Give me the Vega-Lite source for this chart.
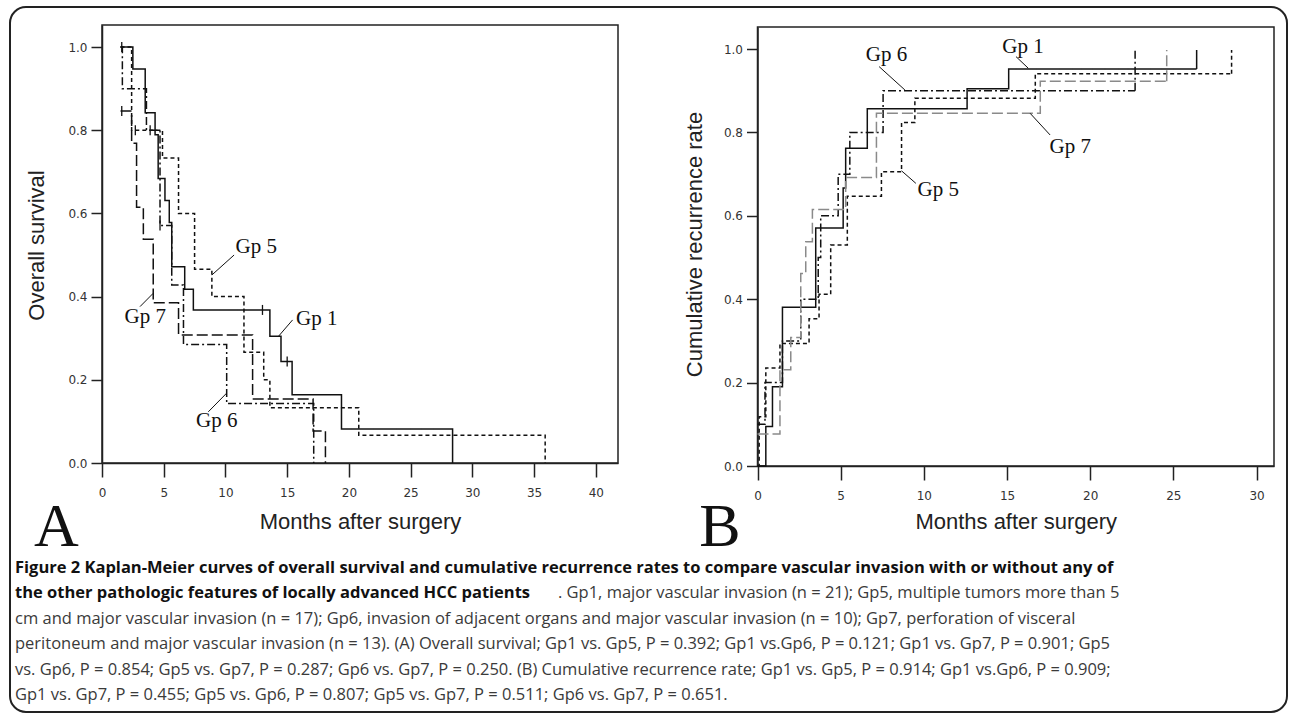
{
  "$schema": "https://vega.github.io/schema/vega-lite/v6.json",
  "width": 1277,
  "height": 705,
  "padding": {"left": 10, "top": 7, "right": 3, "bottom": 7},
  "autosize": {"type": "none"},
  "background": "white",
  "config": {
    "view": {"stroke": "#222", "strokeWidth": 2, "cornerRadius": 16},
    "axis": {"grid": false, "domainColor": "#222", "domainWidth": 1.5, "tickColor": "#222", "tickWidth": 1.5, "labelFont": "DejaVu Sans", "labelFontSize": 12, "labelColor": "#333", "labelPadding": 4, "titleFont": "Liberation Sans", "titleFontSize": 22, "titleFontWeight": "normal", "titleColor": "#222", "labelOverlap": false, "labelFlush": false}
  },
  "datasets": {
    "survA": [
      {"group": "Gp 1", "t": 1.5, "s": 1.0}, {"group": "Gp 1", "t": 2.5, "s": 0.947}, {"group": "Gp 1", "t": 3.5, "s": 0.842}, {"group": "Gp 1", "t": 4.3, "s": 0.789}, {"group": "Gp 1", "t": 4.55, "s": 0.684}, {"group": "Gp 1", "t": 5.1, "s": 0.631}, {"group": "Gp 1", "t": 5.45, "s": 0.578}, {"group": "Gp 1", "t": 5.65, "s": 0.472}, {"group": "Gp 1", "t": 6.7, "s": 0.418}, {"group": "Gp 1", "t": 7.4, "s": 0.368}, {"group": "Gp 1", "t": 13.6, "s": 0.305}, {"group": "Gp 1", "t": 14.5, "s": 0.244}, {"group": "Gp 1", "t": 15.4, "s": 0.164}, {"group": "Gp 1", "t": 19.4, "s": 0.082}, {"group": "Gp 1", "t": 28.4, "s": 0.0},
      {"group": "Gp 5", "t": 1.5, "s": 1.0}, {"group": "Gp 5", "t": 2.4, "s": 0.8}, {"group": "Gp 5", "t": 4.9, "s": 0.733}, {"group": "Gp 5", "t": 6.2, "s": 0.6}, {"group": "Gp 5", "t": 7.5, "s": 0.466}, {"group": "Gp 5", "t": 8.9, "s": 0.4}, {"group": "Gp 5", "t": 11.5, "s": 0.266}, {"group": "Gp 5", "t": 13.1, "s": 0.2}, {"group": "Gp 5", "t": 13.6, "s": 0.133}, {"group": "Gp 5", "t": 20.8, "s": 0.067}, {"group": "Gp 5", "t": 35.9, "s": 0.0},
      {"group": "Gp 6", "t": 1.5, "s": 1.0}, {"group": "Gp 6", "t": 1.65, "s": 0.9}, {"group": "Gp 6", "t": 3.6, "s": 0.8}, {"group": "Gp 6", "t": 4.7, "s": 0.571}, {"group": "Gp 6", "t": 5.65, "s": 0.428}, {"group": "Gp 6", "t": 6.6, "s": 0.285}, {"group": "Gp 6", "t": 10.1, "s": 0.143}, {"group": "Gp 6", "t": 17.15, "s": 0.0},
      {"group": "Gp 7", "t": 1.5, "s": 0.846}, {"group": "Gp 7", "t": 2.4, "s": 0.769}, {"group": "Gp 7", "t": 2.8, "s": 0.615}, {"group": "Gp 7", "t": 3.35, "s": 0.538}, {"group": "Gp 7", "t": 4.15, "s": 0.385}, {"group": "Gp 7", "t": 6.2, "s": 0.308}, {"group": "Gp 7", "t": 12.2, "s": 0.154}, {"group": "Gp 7", "t": 17.1, "s": 0.077}, {"group": "Gp 7", "t": 18.1, "s": 0.0}
    ],
    "censorA": [
      {"group": "Gp 1", "t": 1.6, "s": 1.0}, {"group": "Gp 1", "t": 13.0, "s": 0.368}, {"group": "Gp 1", "t": 15.0, "s": 0.244},
      {"group": "Gp 7", "t": 1.6, "s": 0.846},
      {"group": "Gp 5", "t": 2.7, "s": 0.8}, {"group": "Gp 5", "t": 3.9, "s": 0.8},
      {"group": "Gp 6", "t": 4.7, "s": 0.571}
    ],
    "labelsA": [
      {"label": "Gp 5", "t": 12.5, "s": 0.52, "t1": 10.7, "s1": 0.5, "t2": 8.9, "s2": 0.452},
      {"label": "Gp 7", "t": 3.5, "s": 0.35, "t1": 3.08, "s1": 0.376, "t2": 4.15, "s2": 0.408},
      {"label": "Gp 1", "t": 17.4, "s": 0.346, "t1": 15.44, "s1": 0.344, "t2": 14.28, "s2": 0.304},
      {"label": "Gp 6", "t": 9.3, "s": 0.1, "t1": 8.61, "s1": 0.123, "t2": 10.1, "s2": 0.168}
    ],
    "recB": [
      {"group": "Gp 1", "t": 0.0, "r": 0.0}, {"group": "Gp 1", "t": 0.5, "r": 0.095}, {"group": "Gp 1", "t": 0.9, "r": 0.19}, {"group": "Gp 1", "t": 1.5, "r": 0.381}, {"group": "Gp 1", "t": 3.5, "r": 0.571}, {"group": "Gp 1", "t": 5.15, "r": 0.667}, {"group": "Gp 1", "t": 5.3, "r": 0.762}, {"group": "Gp 1", "t": 6.6, "r": 0.857}, {"group": "Gp 1", "t": 12.6, "r": 0.905}, {"group": "Gp 1", "t": 15.1, "r": 0.952}, {"group": "Gp 1", "t": 26.4, "r": 0.952},
      {"group": "Gp 5", "t": 0.0, "r": 0.0}, {"group": "Gp 5", "t": 0.1, "r": 0.118}, {"group": "Gp 5", "t": 0.5, "r": 0.235}, {"group": "Gp 5", "t": 1.35, "r": 0.294}, {"group": "Gp 5", "t": 3.1, "r": 0.353}, {"group": "Gp 5", "t": 3.7, "r": 0.412}, {"group": "Gp 5", "t": 4.4, "r": 0.53}, {"group": "Gp 5", "t": 5.4, "r": 0.647}, {"group": "Gp 5", "t": 7.45, "r": 0.706}, {"group": "Gp 5", "t": 8.66, "r": 0.824}, {"group": "Gp 5", "t": 9.46, "r": 0.882}, {"group": "Gp 5", "t": 16.7, "r": 0.941}, {"group": "Gp 5", "t": 28.5, "r": 0.941},
      {"group": "Gp 6", "t": 0.0, "r": 0.1}, {"group": "Gp 6", "t": 0.45, "r": 0.2}, {"group": "Gp 6", "t": 1.5, "r": 0.3}, {"group": "Gp 6", "t": 2.6, "r": 0.4}, {"group": "Gp 6", "t": 3.65, "r": 0.5}, {"group": "Gp 6", "t": 3.8, "r": 0.6}, {"group": "Gp 6", "t": 4.85, "r": 0.7}, {"group": "Gp 6", "t": 5.55, "r": 0.8}, {"group": "Gp 6", "t": 7.55, "r": 0.9}, {"group": "Gp 6", "t": 22.7, "r": 0.9},
      {"group": "Gp 7", "t": 0.0, "r": 0.077}, {"group": "Gp 7", "t": 1.35, "r": 0.231}, {"group": "Gp 7", "t": 2.0, "r": 0.308}, {"group": "Gp 7", "t": 2.6, "r": 0.462}, {"group": "Gp 7", "t": 2.9, "r": 0.538}, {"group": "Gp 7", "t": 3.3, "r": 0.615}, {"group": "Gp 7", "t": 5.3, "r": 0.692}, {"group": "Gp 7", "t": 7.15, "r": 0.846}, {"group": "Gp 7", "t": 17.0, "r": 0.923}, {"group": "Gp 7", "t": 24.6, "r": 0.923}
    ],
    "censorB": [
      {"group": "Gp 6", "t": 22.7, "r": 0.9},
      {"group": "Gp 7", "t": 24.6, "r": 0.923},
      {"group": "Gp 1", "t": 26.4, "r": 0.952},
      {"group": "Gp 5", "t": 28.5, "r": 0.941}
    ],
    "labelsB": [
      {"label": "Gp 6", "t": 7.75, "r": 0.986, "t1": 7.31, "r1": 0.958, "t2": 8.86, "r2": 0.902},
      {"label": "Gp 1", "t": 15.96, "r": 1.006, "t1": 15.54, "r1": 0.982, "t2": 16.28, "r2": 0.954},
      {"label": "Gp 5", "t": 10.87, "r": 0.662, "t1": 9.52, "r1": 0.678, "t2": 8.66, "r2": 0.708},
      {"label": "Gp 7", "t": 18.8, "r": 0.766, "t1": 17.59, "r1": 0.794, "t2": 16.39, "r2": 0.846}
    ],
    "letters": [{"panel": "A"}, {"panel": "B"}],
    "caption": [
      {"line": 1, "part": "bold", "text": "Figure 2 Kaplan-Meier curves of overall survival and cumulative recurrence rates to compare vascular invasion with or without any of"},
      {"line": 2, "part": "bold", "text": "the other pathologic features of locally advanced HCC patients"},
      {"line": 2, "part": "after", "text": ". Gp1, major vascular invasion (n = 21); Gp5, multiple tumors more than 5"},
      {"line": 3, "part": "regular", "text": "cm and major vascular invasion (n = 17); Gp6, invasion of adjacent organs and major vascular invasion (n = 10); Gp7, perforation of visceral"},
      {"line": 4, "part": "regular", "text": "peritoneum and major vascular invasion (n = 13). (A) Overall survival; Gp1 vs. Gp5, P = 0.392; Gp1 vs.Gp6, P = 0.121; Gp1 vs. Gp7, P = 0.901; Gp5"},
      {"line": 5, "part": "regular", "text": "vs. Gp6, P = 0.854; Gp5 vs. Gp7, P = 0.287; Gp6 vs. Gp7, P = 0.250. (B) Cumulative recurrence rate; Gp1 vs. Gp5, P = 0.914; Gp1 vs.Gp6, P = 0.909;"},
      {"line": 6, "part": "regular", "text": "Gp1 vs. Gp7, P = 0.455; Gp5 vs. Gp6, P = 0.807; Gp5 vs. Gp7, P = 0.511; Gp6 vs. Gp7, P = 0.651."}
    ]
  },
  "layer": [
    {
      "data": {"values": [{"side": "frame"}]},
      "mark": {"type": "rect", "fillOpacity": 0, "stroke": "#222", "strokeWidth": 1.5},
      "encoding": {
        "x": {"datum": 0, "type": "quantitative", "scale": {"domain": [0, 41.8], "range": [92, 608], "nice": false, "zero": false}, "axis": null},
        "x2": {"datum": 41.8},
        "y": {"datum": 0, "type": "quantitative", "scale": {"domain": [0, 1.053], "range": [456, 18], "nice": false, "zero": false}, "axis": null},
        "y2": {"datum": 1.053}
      }
    },
    {
      "data": {"name": "survA"},
      "mark": {"type": "line", "interpolate": "step-after", "strokeWidth": 1.5},
      "encoding": {
        "x": {"field": "t", "type": "quantitative", "scale": {"domain": [0, 41.8], "range": [92, 608], "nice": false, "zero": false},
          "axis": {"orient": "bottom", "offset": -249, "values": [0, 5, 10, 15, 20, 25, 30, 35, 40], "tickSize": 14, "labelPadding": 10, "title": "Months after surgery", "titleX": 350, "titleY": 58, "titleBaseline": "middle", "titleAlign": "center"}},
        "y": {"field": "s", "type": "quantitative", "scale": {"domain": [0, 1.053], "range": [456, 18], "nice": false, "zero": false},
          "axis": {"orient": "left", "offset": -92, "values": [0, 0.2, 0.4, 0.6, 0.8, 1.0], "format": ".1f", "tickSize": 11, "title": "Overall survival", "titleX": -59, "titleY": 238, "titleAngle": -90, "titleBaseline": "alphabetic", "titleAlign": "center"}},
        "detail": {"field": "group"},
        "strokeDash": {"field": "group", "type": "nominal", "scale": {"domain": ["Gp 1", "Gp 5", "Gp 6", "Gp 7"], "range": [[1, 0], [4, 3], [8, 3, 2, 3], [11, 4]]}, "legend": null},
        "color": {"field": "group", "type": "nominal", "scale": {"domain": ["Gp 1", "Gp 5", "Gp 6", "Gp 7"], "range": ["#111", "#111", "#111", "#111"]}, "legend": null}
      }
    },
    {
      "data": {"name": "censorA"},
      "mark": {"type": "point", "shape": "M0,-1L0,1", "size": 100, "strokeWidth": 1.3, "filled": false, "color": "#111", "opacity": 1},
      "encoding": {
        "x": {"field": "t", "type": "quantitative", "scale": {"domain": [0, 41.8], "range": [92, 608], "nice": false, "zero": false}, "axis": null},
        "y": {"field": "s", "type": "quantitative", "scale": {"domain": [0, 1.053], "range": [456, 18], "nice": false, "zero": false}, "axis": null}
      }
    },
    {
      "data": {"name": "labelsA"},
      "mark": {"type": "rule", "color": "#111", "strokeWidth": 1},
      "encoding": {
        "x": {"field": "t1", "type": "quantitative", "scale": {"domain": [0, 41.8], "range": [92, 608], "nice": false, "zero": false}, "axis": null},
        "y": {"field": "s1", "type": "quantitative", "scale": {"domain": [0, 1.053], "range": [456, 18], "nice": false, "zero": false}, "axis": null},
        "x2": {"field": "t2"},
        "y2": {"field": "s2"}
      }
    },
    {
      "data": {"name": "labelsA"},
      "mark": {"type": "text", "font": "Liberation Serif", "fontSize": 21, "color": "#111", "align": "center", "baseline": "middle"},
      "encoding": {
        "x": {"field": "t", "type": "quantitative", "scale": {"domain": [0, 41.8], "range": [92, 608], "nice": false, "zero": false}, "axis": null},
        "y": {"field": "s", "type": "quantitative", "scale": {"domain": [0, 1.053], "range": [456, 18], "nice": false, "zero": false}, "axis": null},
        "text": {"field": "label"}
      }
    },
    {
      "data": {"name": "letters"},
      "transform": [{"filter": "datum.panel === 'A'"}],
      "mark": {"type": "text", "font": "Liberation Serif", "fontSize": 62, "color": "#111", "align": "left", "baseline": "alphabetic"},
      "encoding": {
        "x": {"datum": -5.5, "type": "quantitative", "scale": {"domain": [0, 41.8], "range": [92, 608], "nice": false, "zero": false}, "axis": null},
        "y": {"datum": -0.2, "type": "quantitative", "scale": {"domain": [0, 1.053], "range": [456, 18], "nice": false, "zero": false}, "axis": null},
        "text": {"field": "panel"}
      }
    },
    {
      "data": {"values": [{"side": "frame"}]},
      "mark": {"type": "rect", "fillOpacity": 0, "stroke": "#222", "strokeWidth": 1.5},
      "encoding": {
        "x": {"datum": 0, "type": "quantitative", "scale": {"domain": [0, 31.05], "range": [747.5, 1264], "nice": false, "zero": false}, "axis": null},
        "x2": {"datum": 31.05},
        "y": {"datum": 0, "type": "quantitative", "scale": {"domain": [0, 1.053], "range": [459, 20], "nice": false, "zero": false}, "axis": null},
        "y2": {"datum": 1.053}
      }
    },
    {
      "data": {"name": "recB"},
      "mark": {"type": "line", "interpolate": "step-after", "strokeWidth": 1.5},
      "encoding": {
        "x": {"field": "t", "type": "quantitative", "scale": {"domain": [0, 31.05], "range": [747.5, 1264], "nice": false, "zero": false},
          "axis": {"orient": "bottom", "offset": -246, "values": [0, 5, 10, 15, 20, 25, 30], "tickSize": 14, "labelPadding": 10, "title": "Months after surgery", "titleX": 1005.75, "titleY": 55, "titleBaseline": "middle", "titleAlign": "center"}},
        "y": {"field": "r", "type": "quantitative", "scale": {"domain": [0, 1.053], "range": [459, 20], "nice": false, "zero": false},
          "axis": {"orient": "left", "offset": -747.5, "values": [0, 0.2, 0.4, 0.6, 0.8, 1.0], "format": ".1f", "tickSize": 11, "title": "Cumulative recurrence rate", "titleX": -56, "titleY": 237, "titleAngle": -90, "titleBaseline": "alphabetic", "titleAlign": "center"}},
        "detail": {"field": "group"},
        "strokeDash": {"field": "group", "type": "nominal", "scale": {"domain": ["Gp 1", "Gp 5", "Gp 6", "Gp 7"], "range": [[1, 0], [4, 3], [8, 3, 2, 3], [11, 4]]}, "legend": null},
        "color": {"field": "group", "type": "nominal", "scale": {"domain": ["Gp 1", "Gp 5", "Gp 6", "Gp 7"], "range": ["#111", "#111", "#111", "#8a8a8a"]}, "legend": null}
      }
    },
    {
      "data": {"name": "censorB"},
      "mark": {"type": "rule", "strokeWidth": 1.5},
      "encoding": {
        "x": {"field": "t", "type": "quantitative", "scale": {"domain": [0, 31.05], "range": [747.5, 1264], "nice": false, "zero": false}, "axis": null},
        "y": {"field": "r", "type": "quantitative", "scale": {"domain": [0, 1.053], "range": [459, 20], "nice": false, "zero": false}, "axis": null},
        "y2": {"datum": 0.998},
        "strokeDash": {"field": "group", "type": "nominal", "scale": {"domain": ["Gp 1", "Gp 5", "Gp 6", "Gp 7"], "range": [[1, 0], [4, 3], [8, 3, 2, 3], [11, 4]]}, "legend": null},
        "color": {"field": "group", "type": "nominal", "scale": {"domain": ["Gp 1", "Gp 5", "Gp 6", "Gp 7"], "range": ["#111", "#111", "#111", "#8a8a8a"]}, "legend": null}
      }
    },
    {
      "data": {"name": "labelsB"},
      "mark": {"type": "rule", "color": "#111", "strokeWidth": 1},
      "encoding": {
        "x": {"field": "t1", "type": "quantitative", "scale": {"domain": [0, 31.05], "range": [747.5, 1264], "nice": false, "zero": false}, "axis": null},
        "y": {"field": "r1", "type": "quantitative", "scale": {"domain": [0, 1.053], "range": [459, 20], "nice": false, "zero": false}, "axis": null},
        "x2": {"field": "t2"},
        "y2": {"field": "r2"}
      }
    },
    {
      "data": {"name": "labelsB"},
      "mark": {"type": "text", "font": "Liberation Serif", "fontSize": 21, "color": "#111", "align": "center", "baseline": "middle"},
      "encoding": {
        "x": {"field": "t", "type": "quantitative", "scale": {"domain": [0, 31.05], "range": [747.5, 1264], "nice": false, "zero": false}, "axis": null},
        "y": {"field": "r", "type": "quantitative", "scale": {"domain": [0, 1.053], "range": [459, 20], "nice": false, "zero": false}, "axis": null},
        "text": {"field": "label"}
      }
    },
    {
      "data": {"name": "letters"},
      "transform": [{"filter": "datum.panel === 'B'"}],
      "mark": {"type": "text", "font": "Liberation Serif", "fontSize": 62, "color": "#111", "align": "left", "baseline": "alphabetic"},
      "encoding": {
        "x": {"datum": -3.5, "type": "quantitative", "scale": {"domain": [0, 31.05], "range": [747.5, 1264], "nice": false, "zero": false}, "axis": null},
        "y": {"datum": -0.193, "type": "quantitative", "scale": {"domain": [0, 1.053], "range": [459, 20], "nice": false, "zero": false}, "axis": null},
        "text": {"field": "panel"}
      }
    },
    {
      "data": {"name": "caption"},
      "transform": [{"filter": "datum.part === 'bold'"}],
      "mark": {"type": "text", "font": "Open Sans", "fontSize": 16.5, "fontWeight": "bold", "color": "#111", "align": "left", "baseline": "middle"},
      "encoding": {
        "x": {"datum": 0, "type": "quantitative", "scale": {"domain": [0, 1], "range": [5, 1263], "nice": false, "zero": false}, "axis": null},
        "y": {"field": "line", "type": "quantitative", "scale": {"domain": [1, 6], "range": [561, 688], "nice": false, "zero": false}, "axis": null},
        "text": {"field": "text"}
      }
    },
    {
      "data": {"name": "caption"},
      "transform": [{"filter": "datum.part === 'regular'"}],
      "mark": {"type": "text", "font": "Open Sans", "fontSize": 16.5, "color": "#3a3a3a", "align": "left", "baseline": "middle"},
      "encoding": {
        "x": {"datum": 0, "type": "quantitative", "scale": {"domain": [0, 1], "range": [5, 1263], "nice": false, "zero": false}, "axis": null},
        "y": {"field": "line", "type": "quantitative", "scale": {"domain": [1, 6], "range": [561, 688], "nice": false, "zero": false}, "axis": null},
        "text": {"field": "text"}
      }
    },
    {
      "data": {"name": "caption"},
      "transform": [{"filter": "datum.part === 'after'"}],
      "mark": {"type": "text", "font": "Open Sans", "fontSize": 16.5, "color": "#3a3a3a", "align": "left", "baseline": "middle"},
      "encoding": {
        "x": {"datum": 0.4316, "type": "quantitative", "scale": {"domain": [0, 1], "range": [5, 1263], "nice": false, "zero": false}, "axis": null},
        "y": {"field": "line", "type": "quantitative", "scale": {"domain": [1, 6], "range": [561, 688], "nice": false, "zero": false}, "axis": null},
        "text": {"field": "text"}
      }
    }
  ],
  "resolve": {
    "scale": {"x": "independent", "y": "independent", "color": "independent", "strokeDash": "independent"},
    "axis": {"x": "independent", "y": "independent"}
  }
}
